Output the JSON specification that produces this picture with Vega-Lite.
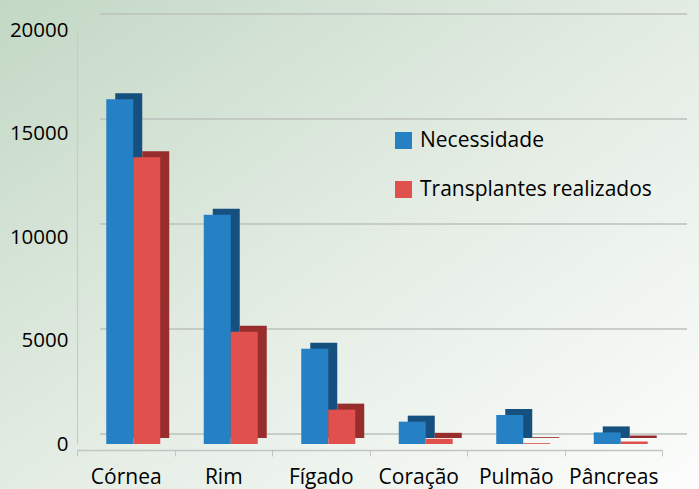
{
  "$schema": "https://vega.github.io/schema/vega-lite/v6.json",
  "width": 699,
  "height": 489,
  "padding": 0,
  "autosize": {"type": "none"},
  "background": "#e4ede4",
  "view": {
    "stroke": null,
    "fill": {
      "gradient": "linear",
      "x1": 0, "y1": 0, "x2": 1, "y2": 1,
      "stops": [
        {"offset": 0, "color": "#c3d8c5"},
        {"offset": 0.5, "color": "#e3ece3"},
        {"offset": 1, "color": "#fcfdfc"}
      ]
    }
  },
  "config": {
    "font": "Open Sans",
    "axis": {"labelFont": "Open Sans", "labelColor": "#000000"},
    "legend": {"labelFont": "Open Sans", "labelColor": "#000000"}
  },
  "datasets": {
    "grid": [
      {"v": 0}, {"v": 5000}, {"v": 10000}, {"v": 15000}, {"v": 20000}
    ],
    "orgaos": [
      {"orgao": "Córnea", "serie": "Necessidade", "valor": 16650},
      {"orgao": "Córnea", "serie": "Transplantes realizados", "valor": 13850},
      {"orgao": "Rim", "serie": "Necessidade", "valor": 11080},
      {"orgao": "Rim", "serie": "Transplantes realizados", "valor": 5420},
      {"orgao": "Fígado", "serie": "Necessidade", "valor": 4600},
      {"orgao": "Fígado", "serie": "Transplantes realizados", "valor": 1660},
      {"orgao": "Coração", "serie": "Necessidade", "valor": 1080},
      {"orgao": "Coração", "serie": "Transplantes realizados", "valor": 250},
      {"orgao": "Pulmão", "serie": "Necessidade", "valor": 1400},
      {"orgao": "Pulmão", "serie": "Transplantes realizados", "valor": 40},
      {"orgao": "Pâncreas", "serie": "Necessidade", "valor": 560},
      {"orgao": "Pâncreas", "serie": "Transplantes realizados", "valor": 120}
    ]
  },
  "resolve": {"scale": {"x": "independent", "y": "independent"}, "axis": {"x": "independent", "y": "independent"}},
  "layer": [
    {
      "data": {"name": "grid"},
      "mark": {"type": "rule", "color": "#bcc0bc", "strokeWidth": 1.5},
      "encoding": {
        "x": {"datum": 0, "type": "quantitative", "scale": {"domain": [0, 1], "range": [100, 687]}, "axis": null},
        "x2": {"datum": 1},
        "y": {"field": "v", "type": "quantitative", "scale": {"domain": [0, 20000], "range": [434, 14]}, "axis": null}
      }
    },
    {
      "data": {"name": "orgaos"},
      "encoding": {
        "x": {
          "field": "orgao", "type": "nominal", "sort": null,
          "scale": {"range": [77, 662], "paddingInner": 0, "paddingOuter": 0},
          "axis": {
            "orient": "bottom", "offset": -39, "title": null, "labelAngle": 0,
            "tickBand": "extent", "tickSize": 6, "tickColor": "#c2c6c2", "domainColor": "#c2c6c2",
            "domainWidth": 1.5, "labelFontSize": 21, "labelPadding": 10
          }
        },
        "y": {
          "field": "valor", "type": "quantitative",
          "scale": {"domain": [0, 20000], "range": [444, 30], "nice": false},
          "axis": {
            "orient": "left", "offset": -77, "title": null, "values": [0, 5000, 10000, 15000, 20000],
            "format": "d", "grid": false, "ticks": false, "domainColor": "#c8ccc8", "domainWidth": 1.2,
            "labelFontSize": 20.5, "labelPadding": 9
          }
        }
      },
      "layer": [
        {
          "transform": [{"filter": "datum.serie === 'Necessidade'"}],
          "mark": {"type": "bar", "color": "#15507f", "width": 27, "xOffset": 3, "x2Offset": 3, "yOffset": -6, "y2Offset": -6}
        },
        {
          "transform": [{"filter": "datum.serie === 'Necessidade'"}],
          "mark": {"type": "bar", "width": 27, "xOffset": -6, "x2Offset": -6},
          "encoding": {
            "color": {
              "field": "serie", "type": "nominal",
              "scale": {"domain": ["Necessidade", "Transplantes realizados"], "range": ["#2681c4", "#e0504c"]},
              "legend": {
                "orient": "none", "legendX": 393, "legendY": 130, "title": null,
                "symbolType": "square", "symbolSize": 289, "symbolStrokeWidth": 0,
                "labelFontSize": 21, "labelOffset": 6, "rowPadding": 27, "labelLimit": 0
              }
            }
          }
        },
        {
          "transform": [{"filter": "datum.serie === 'Transplantes realizados'"}],
          "mark": {"type": "bar", "color": "#982d2d", "width": 27, "xOffset": 30, "x2Offset": 30, "yOffset": -6, "y2Offset": -6}
        },
        {
          "transform": [{"filter": "datum.serie === 'Transplantes realizados'"}],
          "mark": {"type": "bar", "width": 27, "xOffset": 21, "x2Offset": 21},
          "encoding": {
            "color": {"field": "serie", "type": "nominal"}
          }
        }
      ]
    }
  ]
}
